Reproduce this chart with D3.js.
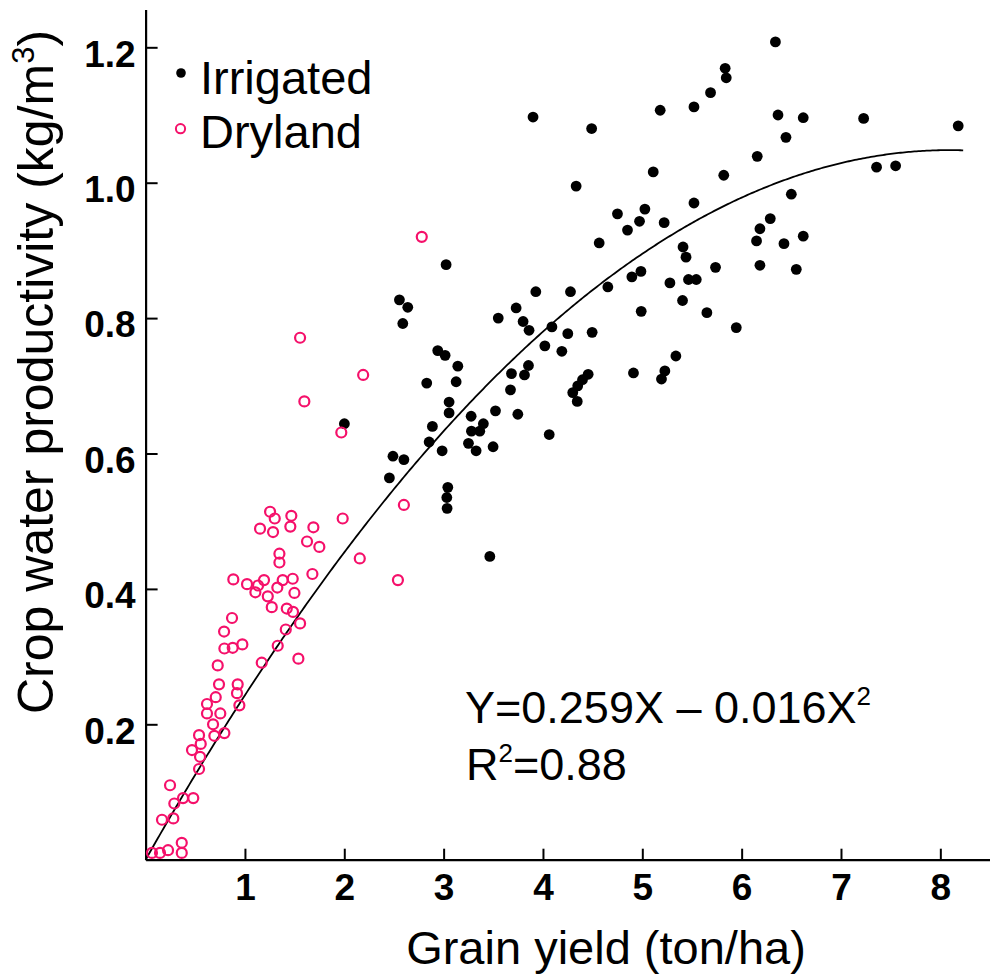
<!DOCTYPE html>
<html>
<head>
<meta charset="utf-8">
<script src="https://cdn.jsdelivr.net/npm/d3@7"></script>
<style>
  html, body { margin: 0; padding: 0; background: #fff; }
  svg { display: block; font-family: "Liberation Sans", Arial, sans-serif; }
</style>
</head>
<body>
<svg id="chart" width="990" height="974"></svg>
<script>
// ---------- DATA ----------
const irrigatedX = [6.34,5.834,5.845,5.687,5.18,5.52,3.90,4.49,6.366,6.62,7.228,8.18,6.446,6.157,7.358,7.55,5.11,5.82,4.334,6.50,5.52,4.75,5.026,4.972,5.22,4.851,4.566,6.288,6.184,6.15,6.426,6.62,5.41,5.44,5.737,6.184,6.55,4.895,4.986,5.465,5.543,5.278,4.653,4.277,3.928,3.73,3.80,3.86,3.55,4.09,4.25,4.495,4.989,5.405,5.65,5.946,
  3.025,2.555,2.639,2.589,4.019,4.19,2.941,3.015,3.143,2.83,3.126,3.854,3.683,3.814,3.673,3.055,3.055,3.522,3.747,3.277,3.40,3.28,3.364,2.887,2.854,3.25,3.327,3.498,2.985,4.063,2.001,2.49,2.60,2.454,3.042,3.032,3.035,3.465,
  4.455,4.398,4.35,4.30,4.345,4.911,5.227,5.193,5.338];
const irrigatedY = [1.208,1.169,1.155,1.133,1.107,1.112,1.097,1.080,1.100,1.096,1.095,1.084,1.067,1.039,1.023,1.025,1.016,1.011,0.995,0.983,0.970,0.954,0.961,0.943,0.941,0.930,0.911,0.947,0.932,0.914,0.910,0.921,0.905,0.890,0.875,0.878,0.872,0.861,0.869,0.857,0.857,0.852,0.846,0.839,0.839,0.815,0.795,0.782,0.800,0.787,0.777,0.779,0.810,0.826,0.808,0.786,
  0.879,0.827,0.816,0.792,0.759,0.751,0.752,0.745,0.729,0.704,0.706,0.730,0.718,0.716,0.694,0.676,0.660,0.663,0.658,0.655,0.644,0.633,0.633,0.640,0.617,0.615,0.604,0.610,0.604,0.628,0.644,0.596,0.591,0.564,0.550,0.535,0.519,0.448,
  0.717,0.709,0.700,0.690,0.677,0.719,0.722,0.710,0.744];

const drylandX = [1.253,1.30,1.467,1.152,1.283,1.457,1.689,1.625,1.749,1.347,1.347,0.883,1.021,1.132,1.192,1.105,1.326,1.38,1.481,1.498,1.679,1.23,1.27,1.421,1.484,0.870,1.555,0.79,1.411,0.793,0.877,0.974,1.33,1.538,1.169,0.726,
  0.739,0.927,0.706,0.92,0.944,0.618,0.618,0.752,0.679,0.538,0.692,0.793,0.555,0.467,0.548,0.538,0.246,0.377,0.48,0.289,0.165,0.279,0.364,0.364,0.226,0.145,0.064,
  2.78,1.555,2.19,1.598,1.97,2.60,1.984,2.156,2.54];
const drylandY = [0.514,0.504,0.508,0.489,0.484,0.492,0.491,0.470,0.462,0.452,0.439,0.414,0.407,0.405,0.413,0.395,0.402,0.413,0.415,0.394,0.422,0.389,0.373,0.371,0.366,0.357,0.349,0.337,0.340,0.312,0.313,0.318,0.316,0.297,0.291,0.287,
  0.259,0.259,0.240,0.246,0.228,0.230,0.216,0.216,0.200,0.184,0.183,0.187,0.171,0.162,0.152,0.134,0.110,0.091,0.091,0.083,0.059,0.061,0.025,0.010,0.014,0.010,0.010,
  0.920,0.771,0.716,0.677,0.631,0.524,0.504,0.445,0.413];

const xTicks = [1,2,3,4,5,6,7,8];
const yTicks = [0.2,0.4,0.6,0.8,1.0,1.2];
const yTickLabels = ["0.2","0.4","0.6","0.8","1.0","1.2"];
const fitCoef = [0.259, -0.016];   // Y = a*X + b*X^2
const fitRange = [0, 8.23];
const seriesNames = ["Irrigated", "Dryland"];

// ---------- CHART ----------
const svg = d3.select("#chart");
const pink = "#f5106a";
const x = d3.scaleLinear().domain([0, 8.5]).range([145.6, 990]);
const y = d3.scaleLinear().domain([0, 1.256]).range([859.7, 9.4]);

// axes
const xAxis = d3.axisBottom(x).tickValues(xTicks).tickSizeInner(-11).tickSizeOuter(0).tickFormat(d3.format("d"));
const gx = svg.append("g").attr("transform", `translate(0,${y(0)})`).call(xAxis);
gx.select(".domain").attr("stroke-width", 2.2);
gx.selectAll(".tick line").attr("stroke-width", 2);
gx.selectAll(".tick text").attr("y", 40.3).attr("dy", null)
  .attr("font-size", 37).attr("font-weight", "bold").attr("fill", "#000")
  .attr("font-family", "Liberation Sans, Arial, sans-serif");

const yAxis = d3.axisLeft(y).tickValues(yTicks).tickSizeInner(-12).tickSizeOuter(0)
  .tickPadding(10).tickFormat((d, i) => yTickLabels[i]);
const gy = svg.append("g").attr("transform", `translate(${x(0)},0)`).call(yAxis);
gy.select(".domain").attr("stroke-width", 2.2);
gy.selectAll(".tick line").attr("stroke-width", 2);
gy.selectAll(".tick text").attr("dy", null).attr("y", 18.7)
  .attr("font-size", 37).attr("font-weight", "bold").attr("fill", "#000")
  .attr("font-family", "Liberation Sans, Arial, sans-serif");

// fit curve
const fitPts = d3.range(fitRange[0], fitRange[1], 0.02).concat([fitRange[1]])
  .map(v => [v, fitCoef[0] * v + fitCoef[1] * v * v]);
svg.append("path")
  .attr("d", d3.line().x(d => x(d[0])).y(d => y(d[1]))(fitPts))
  .attr("fill", "none").attr("stroke", "#000").attr("stroke-width", 1.8);

// points
const irr = irrigatedX.map((v, i) => [v, irrigatedY[i]]);
const dry = drylandX.map((v, i) => [v, drylandY[i]]);
svg.append("g").selectAll("circle").data(irr).join("circle")
  .attr("cx", d => x(d[0])).attr("cy", d => y(d[1])).attr("r", 5.4).attr("fill", "#000");
svg.append("g").selectAll("circle").data(dry).join("circle")
  .attr("cx", d => x(d[0])).attr("cy", d => y(d[1])).attr("r", 5.0)
  .attr("fill", "none").attr("stroke", pink).attr("stroke-width", 2.2);

// legend
const lg = svg.append("g");
lg.append("circle").attr("cx", 181).attr("cy", 73).attr("r", 4.8).attr("fill", "#000");
lg.append("circle").attr("cx", 180.5).attr("cy", 128.7).attr("r", 4.6)
  .attr("fill", "none").attr("stroke", pink).attr("stroke-width", 2);
lg.append("text").attr("x", 200).attr("y", 94.3).attr("font-size", 47).text(seriesNames[0]);
lg.append("text").attr("x", 200).attr("y", 148.3).attr("font-size", 47).text(seriesNames[1]);

// equation
const eq = svg.append("text").attr("x", 465).attr("y", 723).attr("font-size", 45);
eq.append("tspan").text("Y=0.259X \u2013 0.016X");
eq.append("tspan").attr("font-size", 26).attr("dy", -18).text("2");
const r2 = svg.append("text").attr("x", 466).attr("y", 780).attr("font-size", 45);
r2.append("tspan").text("R");
r2.append("tspan").attr("font-size", 26).attr("dy", -18).text("2");
r2.append("tspan").attr("dy", 18).text("=0.88");

// axis titles
svg.append("text").attr("x", 606).attr("y", 964).attr("text-anchor", "middle")
  .attr("font-size", 47).text("Grain yield (ton/ha)");
const yt = svg.append("text").attr("transform", "translate(53,372) rotate(-90)")
  .attr("text-anchor", "middle").attr("font-size", 50);
yt.append("tspan").text("Crop water productivity (kg/m");
yt.append("tspan").attr("font-size", 31).attr("dy", -19).text("3");
yt.append("tspan").attr("dy", 19).text(")");
</script>
</body>
</html>
